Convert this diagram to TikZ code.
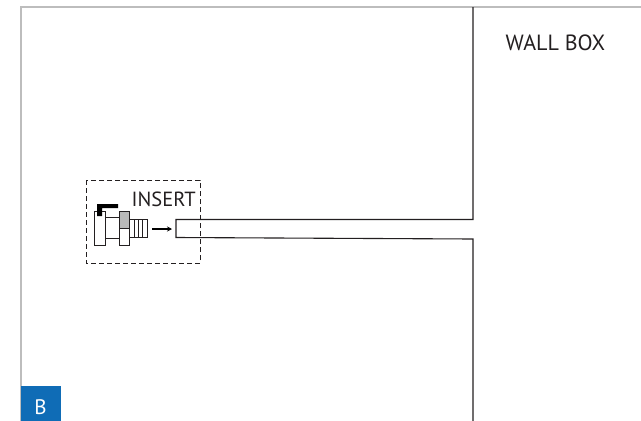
\documentclass[tikz,border=0pt]{standalone}
\usepackage{fontspec}
\setmainfont{PT Sans}
\usetikzlibrary{arrows.meta}
\definecolor{frameblue}{HTML}{0F6CB6}
\definecolor{framegray}{HTML}{BDBDBD}
\definecolor{nutgray}{HTML}{B9B9B9}
\definecolor{inkgray}{HTML}{231F20}
\tikzset{
	wall/.style={draw=inkgray,line width=1.1pt},
	part/.style={draw=inkgray,line width=0.9pt,fill=white},
	label/.style={text=inkgray,inner sep=0pt}
}
\begin{document}
\begin{tikzpicture}[x=1pt, y=-1pt]
	\useasboundingbox (0,0) rectangle (641,421);
	% frame
	\draw[framegray,line width=1.2pt] (21,421) -- (21,7) -- (641,7);
	\fill[frameblue] (20.5,386) rectangle (60.5,421);
	\node[text=white,font=\fontsize{21}{23}\selectfont,inner sep=0pt] (tag) at (40.5,407) {B};
	% wall and tube
	\draw[wall] (473,7) -- (473,219.5) -- (176,219.5) -- (176,237.5) -- (473,239) -- (473,421);
	\node[label,font=\fontsize{22}{24}\selectfont,anchor=base] (wallbox) at (555.5,50.5) {WALL BOX};
	% insert
	\draw[inkgray,line width=1pt,dash pattern=on 5pt off 3pt] (86,180) rectangle (200,263);
	\node[label,font=\fontsize{20.5}{23}\selectfont,anchor=base west] (insert) at (131.5,206.5) {INSERT};
	% valve
	\draw[part] (105.5,217) rectangle (119,238);
	\draw[part] (94,211) rectangle (105.5,245);
	\draw[part] (119,211) rectangle (129,245);
	\draw[part,fill=nutgray] (119,211) rectangle (129,228);
	\draw[part] (129,219) rectangle (147,237);
	\foreach \x in {134,138,142}
	\draw[inkgray,line width=0.8pt] (\x,219) -- (\x,237);
	\fill[black] (97,204) -- (118,204) -- (118,208) -- (102,208) -- (102,216) -- (97,216) -- cycle;
	\draw[-{Stealth[length=5pt,width=5pt]},black,line width=1.2pt] (152,229) -- (172,229);
\end{tikzpicture}
\end{document}
